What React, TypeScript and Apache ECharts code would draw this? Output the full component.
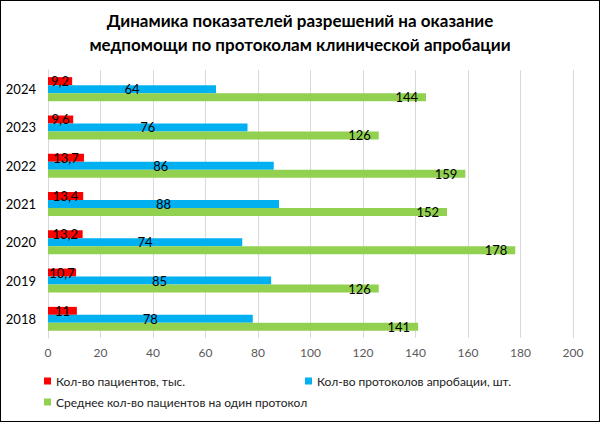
import React, { useEffect, useRef } from "react";
import * as echarts from "echarts";

const years = ["2018", "2019", "2020", "2021", "2022", "2023", "2024"];
const patients = [11, 10.7, 13.2, 13.4, 13.7, 9.6, 9.2];
const protocols = [78, 85, 74, 88, 86, 76, 64];
const avgPerProtocol = [141, 126, 178, 152, 159, 126, 144];
const xTicks = { min: 0, max: 200, interval: 20 };

const seriesNames = [
  "Кол-во пациентов, тыс.",
  "Кол-во протоколов апробации, шт.",
  "Среднее кол-во пациентов на один протокол",
];
const titleText = "Динамика показателей разрешений на оказание\nмедпомощи по протоколам клинической апробации";

const FONT = "Lato, 'Open Sans', sans-serif";

export default function App() {
  const ref = useRef<HTMLDivElement>(null);
  useEffect(() => {
    document.body.style.margin = "0";
    const chart = echarts.init(ref.current!, null, { renderer: "svg" });
    const fmt = (p: any) => String(p.value).replace(".", ",");
    const labelBase = {
      show: true,
      color: "#000",
      fontSize: 13,
      fontFamily: FONT,
      formatter: fmt,
      textBorderWidth: 0,
      textBorderColor: "transparent",
    };
    const legendBase = {
      itemWidth: 7,
      itemHeight: 7,
      icon: "rect",
      textStyle: { fontSize: 12, color: "#222", fontFamily: FONT },
      itemGap: 4,
      padding: 0,
    };
    chart.setOption({
      animation: false,
      backgroundColor: "#fff",
      title: {
        text: titleText,
        left: "center",
        top: 2,
        textStyle: { fontSize: 17, fontWeight: "bold", color: "#000", fontFamily: FONT, lineHeight: 24 },
      },
      grid: { left: 47, right: 26, top: 69, bottom: 83 },
      legend: [
        { ...legendBase, data: [seriesNames[0]], left: 43, top: 374 },
        { ...legendBase, data: [seriesNames[1]], left: 304, top: 374 },
        { ...legendBase, data: [seriesNames[2]], left: 43, top: 395 },
      ],
      xAxis: {
        type: "value",
        min: xTicks.min,
        max: xTicks.max,
        interval: xTicks.interval,
        axisLine: { show: false },
        axisTick: { show: false },
        splitLine: { show: true, lineStyle: { color: "#d9d9d9", width: 1 } },
        axisLabel: { color: "#595959", fontSize: 12, fontFamily: FONT, margin: 8 },
      },
      yAxis: {
        type: "category",
        data: years,
        axisLine: { show: true, lineStyle: { color: "#d9d9d9" } },
        axisTick: { show: false },
        axisLabel: { color: "#000", fontSize: 13, fontFamily: FONT, margin: 12 },
      },
      series: [
        {
          name: seriesNames[0],
          type: "bar",
          data: patients,
          barWidth: 8,
          barGap: "0%",
          itemStyle: { color: "#ff0000" },
          label: { ...labelBase, position: "inside" },
        },
        {
          name: seriesNames[1],
          type: "bar",
          data: protocols,
          barWidth: 8,
          barGap: "0%",
          itemStyle: { color: "#00b0f0" },
          label: { ...labelBase, position: "inside" },
        },
        {
          name: seriesNames[2],
          type: "bar",
          data: avgPerProtocol,
          barWidth: 8,
          barGap: "0%",
          itemStyle: { color: "#92d050" },
          label: { ...labelBase, position: "insideRight", distance: 8 },
        },
      ],
    });
    return () => chart.dispose();
  }, []);
  return (
    <div
      ref={ref}
      style={{
        position: "absolute",
        left: 0,
        top: 0,
        width: 600,
        height: 422,
        boxSizing: "border-box",
        border: "1.5px solid #000",
      }}
    />
  );
}
